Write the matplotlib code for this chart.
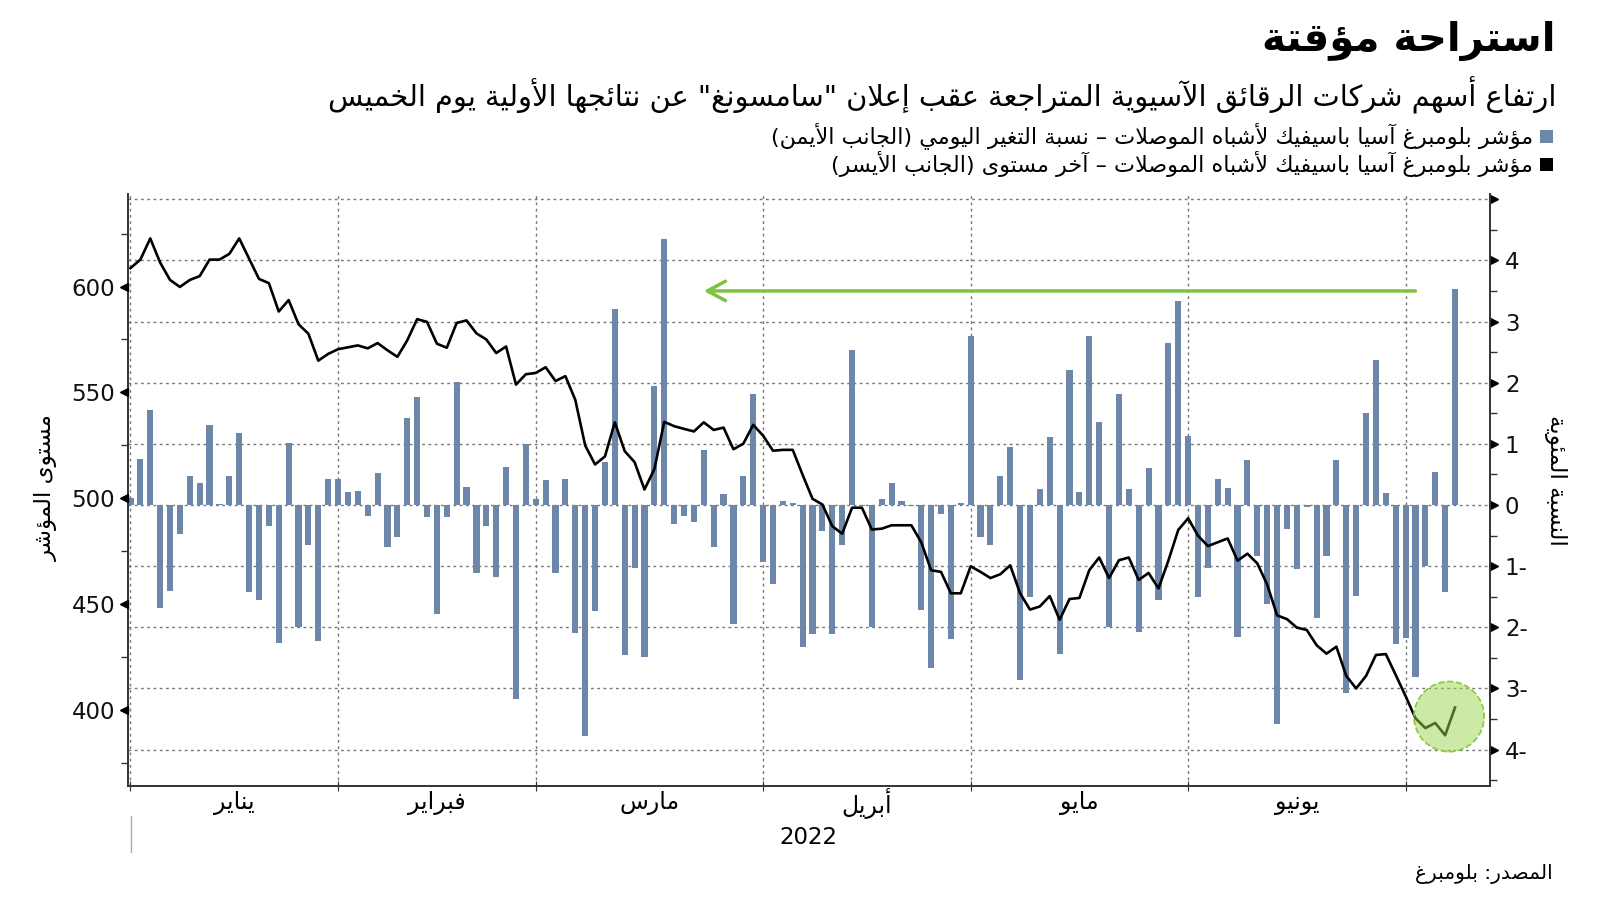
import matplotlib
matplotlib.use("Agg")
import matplotlib.pyplot as plt
import matplotlib.transforms as mtransforms
from matplotlib.patches import Ellipse, Rectangle
from matplotlib.lines import Line2D
from matplotlib.ticker import FuncFormatter
import numpy as np

plt.rcParams['font.family'] = ['DejaVu Sans']

# --- minimal Arabic shaping (presentation forms) + RTL ordering ---
_SEQ = "ءآأؤإئابةتثجحخدذرزسشصضطظعغفقكلمنهوىي"
_NFORMS = [1, 2, 2, 2, 2, 4, 2, 4, 2, 4, 4, 4, 4, 4, 2, 2, 2, 2,
           4, 4, 4, 4, 4, 4, 4, 4, 4, 4, 4, 4, 4, 4, 4, 2, 2, 4]
_FORMS = {}
_code = 0xFE80
for _ch, _n in zip(_SEQ, _NFORMS):
    _FORMS[_ch] = [chr(_code + k) for k in range(_n)]
    _code += _n
_LAM_ALEF = {'آ': 0xFEF5, 'أ': 0xFEF7, 'إ': 0xFEF9, 'ا': 0xFEFB}


def _dual(ch):
    return ch in _FORMS and len(_FORMS[ch]) == 4


def ar(text):
    out = []
    i = 0
    n = len(text)
    while i < n:
        ch = text[i]
        if ch not in _FORMS:
            out.append(ch)
            i += 1
            continue
        prev = text[i - 1] if i > 0 else ''
        joins_prev = _dual(prev)
        if ch == 'ل' and i + 1 < n and text[i + 1] in _LAM_ALEF:
            out.append(chr(_LAM_ALEF[text[i + 1]] + (1 if joins_prev else 0)))
            i += 2
            continue
        nxt = text[i + 1] if i + 1 < n else ''
        joins_next = _dual(ch) and nxt in _FORMS and nxt != 'ء'
        forms = _FORMS[ch]
        if len(forms) == 1:
            out.append(forms[0])
        elif joins_prev and joins_next:
            out.append(forms[3])
        elif joins_prev:
            out.append(forms[1])
        elif joins_next:
            out.append(forms[2])
        else:
            out.append(forms[0])
        i += 1
    return ''.join(out)[::-1].translate(str.maketrans('()', ')('))


# --- data (trading days, Jan 3 2022 onward) ---
months = ["يناير", "فبراير", "مارس", "أبريل", "مايو", "يونيو"]
month_start = [0, 21, 41, 64, 85, 107, 129]

daily_change = [
    0.11, 0.75, 1.56, -1.69, -1.41, -0.48, 0.48, 0.36, 1.31, 0.01,
    0.48, 1.18, -1.43, -1.56, -0.35, -2.25, 1.01, -1.99, -0.66, -2.22,
    0.43, 0.43, 0.21, 0.23, -0.18, 0.52, -0.69, -0.52, 1.42, 1.77,
    -0.20, -1.79, -0.20, 2.01, 0.29, -1.11, -0.35, -1.18, 0.62, -3.18,
    1.00, 0.09, 0.41, -1.11, 0.43, -2.09, -3.77, -1.73, 0.71, 3.21,
    -2.45, -1.03, -2.48, 1.94, 4.35, -0.31, -0.18, -0.28, 0.90, -0.69,
    0.18, -1.95, 0.48, 1.81, -0.94, -1.30, 0.07, 0.03, -2.33, -2.11,
    -0.42, -2.11, -0.66, 2.53, -0.02, -1.99, 0.09, 0.36, 0.07, -0.02,
    -1.71, -2.66, -0.14, -2.19, 0.04, 2.77, -0.52, -0.66, 0.48, 0.94,
    -2.87, -1.51, 0.26, 1.11, -2.44, 2.20, 0.22, 2.77, 1.35, -1.99,
    1.81, 0.26, -2.07, 0.60, -1.56, 2.65, 3.33, 1.13, -1.50, -1.03,
    0.43, 0.28, -2.16, 0.73, -0.84, -1.62, -3.58, -0.39, -1.05, -0.04,
    -1.84, -0.83, 0.73, -3.07, -1.49, 1.50, 2.37, 0.19, -2.28, -2.18,
    -2.82, -1.00, 0.54, -1.43, 3.53,
]

index_level = [
    608.7, 612.7, 622.7, 611.3, 603.1, 599.8, 603.1, 604.9, 612.7, 612.7,
    615.4, 622.7, 613.1, 603.6, 601.6, 588.2, 593.6, 582.2, 577.7, 565.0,
    568.2, 570.4, 571.3, 572.2, 570.8, 573.3, 569.9, 566.8, 574.6, 584.6,
    583.3, 573.0, 571.1, 582.8, 584.0, 577.9, 575.0, 568.6, 571.7, 553.7,
    558.6, 559.2, 561.9, 555.4, 557.7, 546.5, 525.0, 516.0, 519.8, 535.9,
    522.3, 517.1, 504.2, 513.8, 536.1, 534.1, 532.8, 531.6, 535.9, 532.3,
    533.4, 523.2, 525.8, 534.7, 529.6, 522.5, 522.9, 522.9, 511.1, 499.8,
    497.1, 486.9, 483.3, 495.6, 495.6, 485.3, 485.7, 487.3, 487.3, 487.3,
    479.3, 466.1, 465.3, 455.2, 455.2, 467.9, 465.3, 462.4, 464.2, 468.4,
    455.2, 447.5, 449.0, 453.9, 442.7, 452.5, 453.0, 466.1, 472.1, 462.4,
    470.8, 472.1, 461.5, 464.8, 457.5, 470.6, 485.1, 490.6, 482.4, 477.5,
    479.3, 481.1, 470.6, 473.9, 469.3, 459.3, 444.8, 443.0, 439.0, 437.9,
    430.7, 426.7, 430.0, 416.2, 410.3, 416.2, 426.1, 426.5, 416.7, 406.7,
    396.2, 391.6, 394.0, 388.2, 401.3,
]

BAR = '#6d87aa'
GREEN = '#7dc242'
GRID = '#777777'
W, H = 1600, 901

x = np.arange(len(daily_change))

fig = plt.figure(figsize=(16, 9.01), dpi=100)
ax = fig.add_axes([0.0797, 0.128, 0.8513, 0.657])   # percent axis (right side)
ax2 = ax.twinx()                                     # index level (left side)

# bars: daily change
ax.bar(x, daily_change, width=0.62, color=BAR, zorder=2)
ax.set_xlim(-0.3, 137.5)
ax.set_ylim(-4.59, 5.09)
ax.yaxis.tick_right()
ax.set_yticks(range(-4, 6))
ax.set_yticks(np.arange(-4.5, 5, 1), minor=True)
ax.yaxis.set_major_formatter(FuncFormatter(
    lambda v, p: '' if v > 4.5 else (f"{abs(v):g}-" if v < 0 else f"{v:g}")))
ax.set_xticks(month_start)
ax.set_xticklabels([])
ax.set_axisbelow(True)
ax.grid(True, which='major', color=GRID, linestyle=(0, (2, 2.5)), linewidth=1)
ax.tick_params(axis='y', which='major', length=0, pad=11, labelsize=16.5, colors='#111111')
ax.tick_params(axis='y', which='minor', length=5, width=1, color='#333333')
ax.tick_params(axis='x', which='major', length=7, direction='inout', color='#333333')
for side in ['left', 'right', 'bottom']:
    ax.spines[side].set_color('#333333')
    ax.spines[side].set_linewidth(1.4)
ax.spines['top'].set_visible(False)

# line: index level
ax2.plot(x, index_level, color='black', linewidth=1.9, zorder=3)
ax2.set_ylim(364.4, 643.8)
ax2.yaxis.tick_left()
ax2.set_yticks([400, 450, 500, 550, 600])
ax2.set_yticks([375, 425, 475, 525, 575, 625], minor=True)
ax2.tick_params(axis='y', which='major', length=0, pad=9, labelsize=16.5, colors='#111111')
ax2.tick_params(axis='y', which='minor', length=5, width=1, color='#333333')
for side in ax2.spines:
    ax2.spines[side].set_visible(False)

# triangle tick markers
tri_l = mtransforms.offset_copy(
    mtransforms.blended_transform_factory(ax2.transAxes, ax2.transData), fig=fig, x=-4, units='dots')
ax2.plot([0] * 5, [400, 450, 500, 550, 600], ls='none', marker='<', ms=6,
         color='black', transform=tri_l, clip_on=False)
tri_r = mtransforms.offset_copy(
    mtransforms.blended_transform_factory(ax.transAxes, ax.transData), fig=fig, x=4, units='dots')
ax.plot([1] * 10, list(range(-4, 6)), ls='none', marker='>', ms=6,
        color='black', transform=tri_r, clip_on=False)

# highlight: green arrow and circle
ax.annotate('', xy=(58, daily_change[-1] - 0.03), xytext=(130, daily_change[-1] - 0.03),
            arrowprops=dict(arrowstyle='->,head_length=1.3,head_width=0.7',
                            color=GREEN, lw=2.5, shrinkA=0, shrinkB=0), zorder=4)
ax2.add_patch(Ellipse((len(x) - 1.6, 397), width=7.1, height=33.1,
                      facecolor=(0.61, 0.83, 0.31, 0.5), edgecolor='#8cc63f',
                      linestyle='--', linewidth=1.2, zorder=5))

# month labels
tr = mtransforms.blended_transform_factory(ax.transData, ax.transAxes)
for k, name in enumerate(months):
    mid = (month_start[k] + month_start[k + 1]) / 2
    ax.text(mid, -0.03, ar(name), transform=tr, ha='center', va='center', fontsize=17)
ax.text(0.5, -0.087, '2022', transform=ax.transAxes, ha='center', va='center', fontsize=16.5)
fig.add_artist(Line2D([130.6 / W] * 2, [1 - 816 / H, 1 - 852 / H], color='#aaaaaa', lw=1))


def ftext(px, py, s, **kw):
    return fig.text(px / W, 1 - py / H, s, **kw)


# titles, legend, axis titles, source
ftext(1556, 41, ar("استراحة مؤقتة"), ha='right', va='center', fontsize=29, fontweight='bold')
ftext(1556, 95, ar('ارتفاع أسهم شركات الرقائق الآسيوية المتراجعة عقب إعلان "سامسونغ" عن نتائجها الأولية يوم الخميس'),
      ha='right', va='center', fontsize=20.8)
legend_rows = [
    (136, BAR, "مؤشر بلومبرغ آسيا باسيفيك لأشباه الموصلات – نسبة التغير اليومي (الجانب الأيمن)"),
    (164, 'black', "مؤشر بلومبرغ آسيا باسيفيك لأشباه الموصلات – آخر مستوى (الجانب الأيسر)"),
]
for py, col, label in legend_rows:
    fig.add_artist(Rectangle(((1546 - 6.5) / W, 1 - (py + 6.5) / H), 13 / W, 13 / H,
                             transform=fig.transFigure, facecolor=col, edgecolor='none'))
    ftext(1533, py, ar(label), ha='right', va='center', fontsize=16)

ftext(46, 488, ar("مستوى المؤشر"), ha='center', va='center', rotation=90, fontsize=16.5)
ftext(1556, 480, ar("النسبة المئوية"), ha='center', va='center', rotation=-90, fontsize=16.5)
ftext(1553, 874, ar("المصدر: بلومبرغ"), ha='right', va='center', fontsize=14.5)

fig.savefig('out.png', dpi=100)
